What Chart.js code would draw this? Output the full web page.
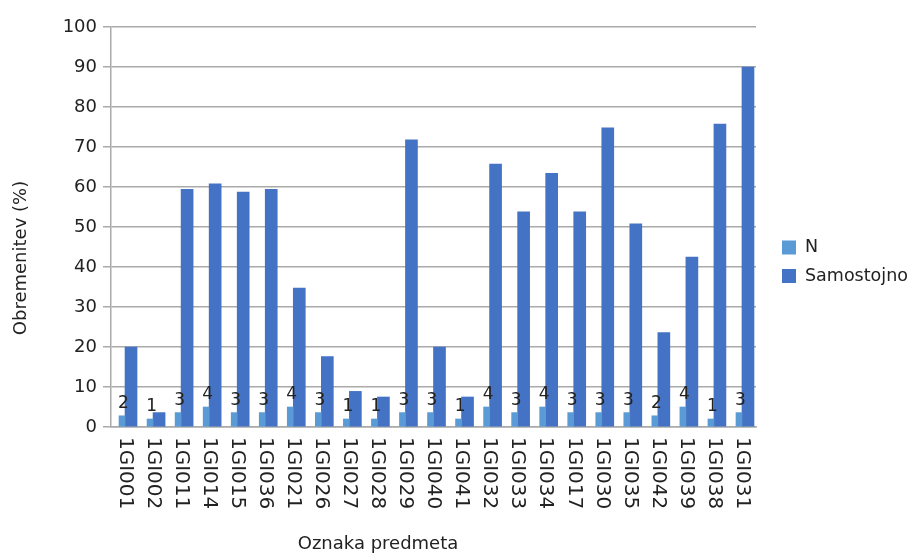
<!DOCTYPE html>
<html>
<head>
<meta charset="utf-8">
<script src="https://cdn.jsdelivr.net/npm/chart.js@4.4.1/dist/chart.umd.min.js"></script>
<style>
html,body{margin:0;padding:0;background:#ffffff;}
#wrap{width:915px;height:556px;position:relative;}
</style>
</head>
<body>
<div id="wrap"><canvas id="c" width="915" height="556"></canvas></div>
<script>
// ---- data ----
const categories = ['1GI001','1GI002','1GI011','1GI014','1GI015','1GI036','1GI021','1GI026','1GI027','1GI028','1GI029','1GI040','1GI041','1GI032','1GI033','1GI034','1GI017','1GI030','1GI035','1GI042','1GI039','1GI038','1GI031'];
const nCounts = [2,1,3,4,3,3,4,3,1,1,3,3,1,4,3,4,3,3,3,2,4,1,3];
const nValues = [2.8,2.0,3.6,5.0,3.6,3.6,5.0,3.6,2.0,2.0,3.6,3.6,2.0,5.0,3.6,5.0,3.6,3.6,3.6,2.8,5.0,2.0,3.6];
const samValues = [20,3.6,59.4,60.8,58.7,59.4,34.7,17.6,8.9,7.5,71.8,20,7.5,65.7,53.8,63.4,53.8,74.8,50.8,23.6,42.5,75.7,90];
const seriesNames = ['N','Samostojno'];
const yMin = 0, yMax = 100, yStep = 10;
const xTitle = 'Oznaka predmeta';
const yTitle = 'Obremenitev (%)';

const FONT = '"DejaVu Sans", Verdana, sans-serif';
const TEXT = '#222222';
const GRID = '#aaaaaa';
const COLORS = ['#5b9bd5', '#4472c4'];

const extras = {
  id: 'extras',
  afterDraw(chart) {
    const ctx = chart.ctx;
    const xs = chart.scales.x;
    const area = chart.chartArea;
    ctx.save();
    // x tick labels, rotated clockwise (read top to bottom)
    ctx.fillStyle = TEXT;
    ctx.font = '20px ' + FONT;
    ctx.textAlign = 'left';
    ctx.textBaseline = 'middle';
    categories.forEach((lab, i) => {
      const x = xs.getPixelForValue(i);
      ctx.save();
      ctx.translate(x, area.bottom + 10);
      ctx.rotate(Math.PI / 2);
      ctx.fillText(lab, 0, 0);
      ctx.restore();
    });
    // data labels above N bars
    const meta = chart.getDatasetMeta(0);
    ctx.font = '17px ' + FONT;
    ctx.textAlign = 'center';
    ctx.textBaseline = 'alphabetic';
    meta.data.forEach((bar, i) => {
      ctx.fillText(String(nCounts[i]), bar.x + 1.5, bar.y - 8);
    });
    // axis titles
    ctx.font = '18px ' + FONT;
    ctx.textAlign = 'center';
    ctx.textBaseline = 'middle';
    ctx.fillText(xTitle, area.right / 2, 544);
    ctx.save();
    ctx.translate(21, 258);
    ctx.rotate(-Math.PI / 2);
    ctx.fillText(yTitle, 0, 0);
    ctx.restore();
    // legend
    ctx.font = '17.5px ' + FONT;
    ctx.textAlign = 'left';
    chart.data.datasets.forEach((ds, i) => {
      const cy = 247.5 + i * 28.5;
      ctx.fillStyle = ds.backgroundColor;
      ctx.fillRect(782, cy - 7, 14, 14);
      ctx.fillStyle = TEXT;
      ctx.fillText(ds.label, 805, cy);
    });
    ctx.restore();
  }
};

new Chart(document.getElementById('c'), {
  type: 'bar',
  data: {
    labels: categories,
    datasets: [
      { label: seriesNames[0], data: nValues, backgroundColor: COLORS[0], barThickness: 6, borderWidth: 0 },
      { label: seriesNames[1], data: samValues, backgroundColor: COLORS[1], barThickness: 12, borderWidth: 0 }
    ]
  },
  options: {
    responsive: false,
    animation: false,
    devicePixelRatio: 1,
    layout: { padding: { left: 0, top: 27, right: 159, bottom: 0 } },
    plugins: { legend: { display: false }, tooltip: { enabled: false } },
    scales: {
      x: {
        grid: { display: false },
        border: { display: true, color: GRID, width: 1.5 },
        ticks: { display: false },
        afterFit(s) { s.height = 556 - 427; }
      },
      y: {
        min: yMin, max: yMax,
        ticks: { stepSize: yStep, color: TEXT, font: { family: FONT, size: 18 }, padding: 6 },
        grid: { color: GRID, lineWidth: 1.5, tickLength: 8 },
        border: { display: true, color: GRID, width: 1.5 },
        afterFit(s) { s.width = 111; }
      }
    }
  },
  plugins: [extras]
});
</script>
</body>
</html>
